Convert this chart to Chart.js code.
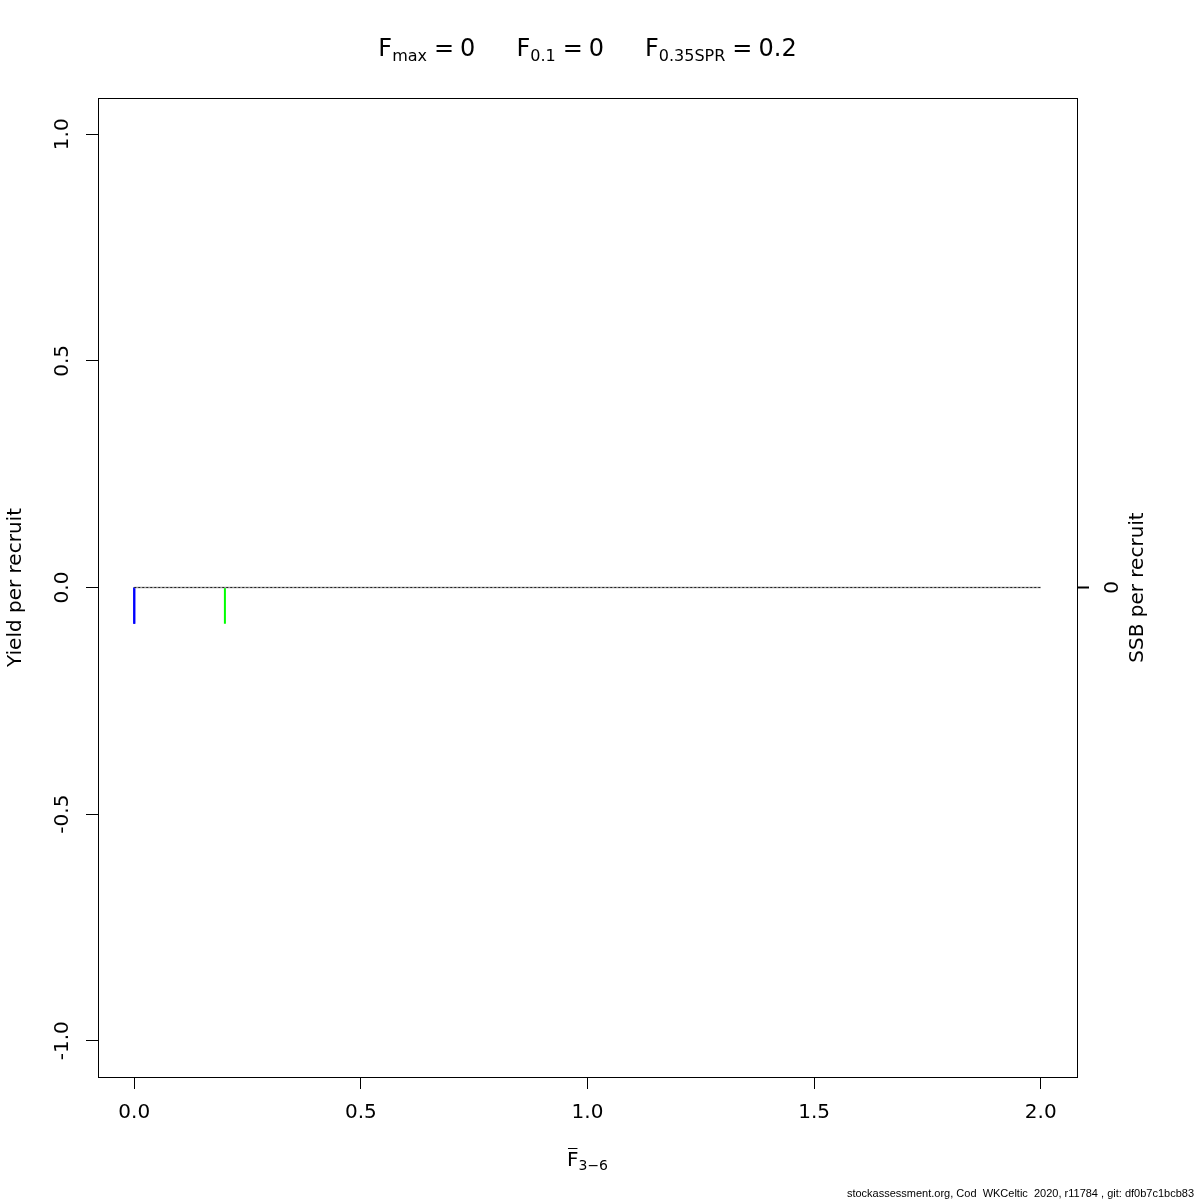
<!DOCTYPE html>
<html><head><meta charset="utf-8">
<script src="https://cdn.jsdelivr.net/npm/chart.js@4"></script>
<style>html,body{margin:0;padding:0;background:#fff}#wrap{width:1200px;height:1200px}</style>
</head><body><div id="wrap"><canvas id="c" width="1200" height="1200"></canvas></div>
<script>
// ---- data ----
const fValues = [0, 0.25, 0.5, 0.75, 1, 1.25, 1.5, 1.75, 2];
const yieldPerRecruit = [0, 0, 0, 0, 0, 0, 0, 0, 0];
const ssbPerRecruit = [0, 0, 0, 0, 0, 0, 0, 0, 0];
const xTicks = [0, 0.5, 1, 1.5, 2];
const yTicks = [-1, -0.5, 0, 0.5, 1];
const ssbTicks = [0];
const refLabels = ['max', '0.1', '0.35SPR'];
const refF = [0, 0, 0.2];
const refValueText = ['0', '0', '0.2'];
const refSegmentTop = 0;
const refSegmentBottom = -0.08;
const footerText = 'stockassessment.org, Cod  WKCeltic  2020, r11784 , git: df0b7c1bcb83';

const FONT = 'DejaVu Sans';
const AREA = {left: 98, top: 98, right: 1077, bottom: 1077};

function pts(xs, ys) { return xs.map((x, i) => ({x: x, y: ys[i]})); }
function seg(f) { return [{x: f, y: refSegmentTop}, {x: f, y: refSegmentBottom}]; }

function drawRich(ctx, parts, x, baseline) {
  let cx = x;
  for (const p of parts) {
    if (p.gap) { cx += p.gap; continue; }
    ctx.font = (p.size) + 'px "' + FONT + '"';
    ctx.fillText(p.t, cx, baseline + (p.dy || 0));
    cx += ctx.measureText(p.t).width;
  }
  return cx;
}
function richWidth(ctx, parts) {
  let w = 0;
  for (const p of parts) {
    if (p.gap) { w += p.gap; continue; }
    ctx.font = (p.size) + 'px "' + FONT + '"';
    w += ctx.measureText(p.t).width;
  }
  return w;
}

const textPlugin = {
  id: 'texts',
  afterDraw(chart) {
    const ctx = chart.ctx;
    const ca = chart.chartArea;
    const ys = chart.scales.y, y2 = chart.scales.y2;
    ctx.save();
    // box
    ctx.strokeStyle = '#000';
    ctx.lineWidth = 1;
    ctx.strokeRect(Math.round(ca.left) + 0.5, Math.round(ca.top) + 0.5,
                   Math.round(ca.right - ca.left), Math.round(ca.bottom - ca.top));
    ctx.fillStyle = '#000';
    ctx.textAlign = 'left';
    ctx.textBaseline = 'alphabetic';
    // title
    const parts = [];
    refLabels.forEach((lab, i) => {
      if (i > 0) parts.push({gap: 41});
      parts.push({t: 'F', size: 24});
      parts.push({t: lab, size: 16, dy: 5});
      parts.push({gap: 7});
      parts.push({t: '=', size: 24});
      parts.push({gap: 6});
      parts.push({t: refValueText[i], size: 24});
    });
    const tw = richWidth(ctx, parts);
    const cxm = (ca.left + ca.right) / 2;
    drawRich(ctx, parts, cxm - tw / 2, 56);
    // y tick labels (rotated)
    ctx.font = '20px "' + FONT + '"';
    ctx.textAlign = 'center';
    ctx.textBaseline = 'middle';
    yTicks.forEach(v => {
      const py = ys.getPixelForValue(v);
      ctx.save();
      ctx.translate(63, py);
      ctx.rotate(-Math.PI / 2);
      ctx.fillText(v.toFixed(1), 0, 0);
      ctx.restore();
    });
    ssbTicks.forEach(v => {
      const py = y2.getPixelForValue(v);
      ctx.save();
      ctx.translate(1113, py);
      ctx.rotate(-Math.PI / 2);
      ctx.fillText(String(v), 0, 0);
      ctx.restore();
    });
    // axis titles
    ctx.save();
    ctx.translate(16, (ca.top + ca.bottom) / 2);
    ctx.rotate(-Math.PI / 2);
    ctx.fillText('Yield per recruit', 0, 0);
    ctx.restore();
    ctx.save();
    ctx.translate(1138, (ca.top + ca.bottom) / 2);
    ctx.rotate(-Math.PI / 2);
    ctx.fillText('SSB per recruit', 0, 0);
    ctx.restore();
    // x title: F-bar with subscript 3−6
    ctx.textAlign = 'left';
    ctx.textBaseline = 'alphabetic';
    const xparts = [{t: 'F', size: 20}, {t: '3\u22126', size: 14, dy: 4}];
    const xw = richWidth(ctx, xparts);
    const x0 = cxm - xw / 2;
    drawRich(ctx, xparts, x0, 1166);
    ctx.font = '20px "' + FONT + '"';
    const fw = ctx.measureText('F').width;
    ctx.beginPath();
    ctx.moveTo(x0 + 1, 1148.5);
    ctx.lineTo(x0 + fw - 1, 1148.5);
    ctx.lineWidth = 1;
    ctx.stroke();
    // footer
    ctx.font = '11px "Liberation Sans"';
    ctx.textAlign = 'right';
    ctx.fillText(footerText, 1194, 1197);
    ctx.restore();
  }
};

const gridOpts = {drawOnChartArea: false, tickLength: 12, color: '#000', tickColor: '#000', tickWidth: 1};

new Chart(document.getElementById('c').getContext('2d'), {
  type: 'line',
  data: {
    datasets: [
      {data: pts(fValues, yieldPerRecruit), borderColor: '#222', borderWidth: 1, borderDash: [2, 2], pointRadius: 0, yAxisID: 'y'},
      {data: pts(fValues, ssbPerRecruit), borderColor: '#a0a0a0', borderWidth: 1.5, pointRadius: 0, yAxisID: 'y2'},
      {data: seg(refF[2]), borderColor: '#00ff00', borderWidth: 2, pointRadius: 0, yAxisID: 'y'},
      {data: seg(refF[1]), borderColor: '#0000ff', borderWidth: 2, pointRadius: 0, yAxisID: 'y'},
      {data: seg(refF[0]), borderColor: '#0000ff', borderWidth: 2, pointRadius: 0, yAxisID: 'y'}
    ]
  },
  options: {
    responsive: false,
    animation: false,
    events: [],
    layout: {padding: {top: AREA.top, left: 0, right: 0, bottom: 0}},
    plugins: {legend: {display: false}, tooltip: {enabled: false}, title: {display: false}},
    scales: {
      x: {
        type: 'linear', position: 'bottom', min: -0.08, max: 2.08,
        afterBuildTicks: s => { s.ticks = xTicks.map(v => ({value: v})); },
        afterFit: s => { s.height = 1200 - AREA.bottom; },
        grid: gridOpts,
        border: {display: false},
        ticks: {autoSkip: false, maxRotation: 0, color: '#000', padding: 12,
                font: {family: FONT, size: 20},
                callback: v => Number(v).toFixed(1)}
      },
      y: {
        type: 'linear', position: 'left', min: -1.08, max: 1.08,
        afterBuildTicks: s => { s.ticks = yTicks.map(v => ({value: v})); },
        afterFit: s => { s.width = AREA.left; },
        grid: gridOpts,
        border: {display: false},
        ticks: {display: false}
      },
      y2: {
        type: 'linear', position: 'right', min: -1.08, max: 1.08,
        afterBuildTicks: s => { s.ticks = ssbTicks.map(v => ({value: v})); },
        afterFit: s => { s.width = 1200 - AREA.right; },
        grid: Object.assign({}, gridOpts, {tickWidth: 2}),
        border: {display: false},
        ticks: {display: false}
      }
    }
  },
  plugins: [textPlugin]
});
</script>
</body></html>
